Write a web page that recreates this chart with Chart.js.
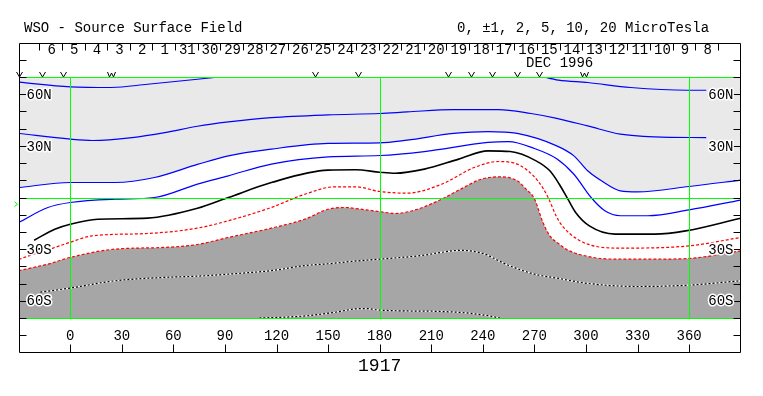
<!DOCTYPE html>
<html>
<head>
<meta charset="utf-8">
<script src="https://cdn.jsdelivr.net/npm/chart.js@4/dist/chart.umd.min.js"></script>
<style>
  body { margin: 0; background: #fff; }
</style>
</head>
<body>
<canvas id="myChart" width="763" height="396"></canvas>
<script>
// source surface field contours, Carrington rotation 1917 (lon in deg, lat in deg)
var blue1Lon = [-30, 0, 24, 45, 74, 91, 180, 274, 284, 301, 326, 359, 370];
var blue1Lat = [67, 64.3, 63.9, 65.8, 68.7, 70.5, null, 70.5, 68.2, 66.8, 63.9, 62.3, 62.3];

var blue2Lon = [-30, 0, 13, 36, 55, 74, 92, 117, 150, 180, 196, 223, 249, 268, 283, 301, 320, 340, 370];
var blue2Lat = [37.2, 33.9, 33.1, 34.8, 37.7, 41.4, 43.9, 46.4, 48, 48.8, 49.7, 51.1, 51.1, 48.8, 46, 41.6, 36.8, 35.2, 34.8];

var blue3Lon = [-30, 0, 26, 49, 74, 92, 117, 150, 180, 196, 223, 243, 260, 283, 293, 301, 309, 320, 330, 360, 390];
var blue3Lat = [5.8, 8.7, 8.7, 11.6, 19.2, 24.2, 28.1, 31.4, 31.7, 33.3, 37.2, 38.3, 37.2, 30, 24.2, 15.5, 9.7, 3.9, 3.3, 6.4, 10.1];

var blue4Lon = [-30, -13, 0, 26, 49, 74, 92, 117, 150, 180, 206, 243, 255, 270, 283, 293, 303, 311, 320, 336, 360, 390];
var blue4Lat = [-14.5, -5.8, -2.9, -1, 0, 7.8, 12.6, 19.4, 23.6, 24.4, 26.7, 32, 32.5, 28.5, 22.5, 13.5, 0, -7.7, -10.6, -10.6, -7.2, -1.5];

var zeroLon = [-21, -9, 0, 16, 45, 74, 92, 117, 150, 166, 180, 189, 206, 226, 243, 256, 271, 279, 284.5, 289.5, 294, 302, 317, 340, 358, 390];
var zeroLat = [-24.8, -18.4, -15.5, -12.6, -12, -6.3, 0, 8.7, 15.9, 16.1, 14.7, 14.1, 16.5, 22.3, 27.1, 26.7, 21.3, 15.5, 7.7, -1, -8.7, -16.5, -21.3, -21.3, -19.4, -12];

var red1Lon = [-30, -20, -10, 0, 12.6, 45, 74, 92, 117, 136.5, 154, 166, 180, 196, 216, 235, 249, 260, 272, 278, 282.6, 285.5, 291, 301, 320, 360, 390];
var red1Lat = [-36, -32.5, -29.4, -26, -22.3, -20.9, -17.8, -13.5, -5.8, 1.9, 6.2, 6.2, 3.5, 2.5, 7.7, 17.4, 20.9, 19.4, 9.7, 0, -10.6, -15.5, -21.3, -27.1, -29.4, -28.1, -23.2];

var red2Lon = [-30, -13, 0, 26, 55, 74, 92, 117, 136.5, 150, 160, 169, 180, 189, 202, 216, 227, 239, 250, 260, 266, 269, 271, 273, 275, 279, 284.5, 288.4, 304, 319.4, 340, 360, 390];
var red2Lat = [-42.5, -38.7, -34.8, -30, -29, -27.3, -23.2, -17.8, -12.6, -6.8, -5.8, -6.8, -8.2, -9.3, -6.8, -1, 4.8, 10.6, 12, 9.7, 4, 1, -3, -9, -14.5, -22.3, -27.1, -30, -34.8, -35.8, -35.8, -35.4, -31];

var neg5Lon = [-17.4, 0, 26, 55, 74, 99, 117, 137, 150, 165, 180, 206, 215, 227, 240, 254, 270, 284, 301, 330, 360, 390];
var neg5Lat = [-55, -52.6, -48.4, -46.4, -45.7, -44, -42.5, -39.5, -38.5, -37, -35.8, -33.5, -32, -30.7, -32.5, -39, -44.5, -47, -49.9, -51.7, -50.9, -48.4];

var neg10Lon = [110, 125, 140, 155, 165, 172, 180, 190, 215, 230, 242, 250];
var neg10Lat = [-70, -69.5, -68.5, -66.5, -64.8, -64.5, -65.4, -65.8, -66.2, -67, -68.5, -70];

// axes / labels
var lonTicks = [0, 30, 60, 90, 120, 150, 180, 210, 240, 270, 300, 330, 360];
var greenLons = [0, 180, 360];
var greenLats = [70, 0, -70];
var latLabelVals = [60, 30, -30, -60];
var latLabels = ['60N', '30N', '30S', '60S'];
var dayLabels = ['6', '5', '4', '3', '2', '1', '31', '30', '29', '28', '27', '26', '25', '24', '23',
  '22', '21', '20', '19', '18', '17', '16', '15', '14', '13', '12', '11', '10', '9', '8'];
var firstDayTick = -18.0;
var dayStep = 13.16;
var monthLabel = 'DEC 1996';
var monthLon = 284.7;
var markerLon = [-29.8, -16.6, -4.1, 23.7, 142.3, 167.3, 219.8, 233, 245.6, 260, 272.8, 298.8];
var markerKind = ['V', 'V', 'V', 'W', 'V', 'V', 'V', 'V', 'V', 'V', 'V', 'W'];
var earthLat = -3.9;
var rotation = '1917';

function pts(lons, lats) {
  return lons.map(function (v, i) { return { x: v, y: lats[i] }; });
}

var FONT = '"Liberation Mono", "Courier New", monospace';

var wso = {
  id: 'wso',
  afterDatasetsDraw: function (chart) {
    var c = chart.ctx, a = chart.chartArea, x = chart.scales.x, y = chart.scales.y;
    c.save();
    c.strokeStyle = '#00ff00';
    c.lineWidth = 1;
    c.beginPath();
    greenLons.forEach(function (v) {
      var px = Math.round(x.getPixelForValue(v)) + 0.5;
      c.moveTo(px, a.top); c.lineTo(px, a.bottom);
    });
    greenLats.forEach(function (v) {
      var py = Math.round(y.getPixelForValue(v)) + 0.5;
      c.moveTo(a.left, py); c.lineTo(a.right, py);
    });
    c.stroke();
    c.restore();
  },
  afterDraw: function (chart) {
    var c = chart.ctx, a = chart.chartArea, x = chart.scales.x, y = chart.scales.y;
    var top = Math.round(y.getPixelForValue(90)) + 0.5;
    var bot = Math.round(y.getPixelForValue(-90)) + 0.5;
    var L = a.left + 0.5, R = a.right - 0.5;
    c.save();
    c.strokeStyle = '#000';
    c.lineWidth = 1;
    c.beginPath();
    c.rect(L, top, R - L, bot - top);
    // latitude ticks every 10 deg, both sides
    for (var lat = -80; lat <= 80; lat += 10) {
      var py = Math.round(y.getPixelForValue(lat)) + 0.5;
      c.moveTo(L, py); c.lineTo(L + 7, py);
      c.moveTo(R, py); c.lineTo(R - 7, py);
    }
    // longitude ticks at the bottom
    lonTicks.forEach(function (v) {
      var px = Math.round(x.getPixelForValue(v)) + 0.5;
      c.moveTo(px, bot); c.lineTo(px, bot - 8);
    });
    // day ticks at the top
    for (var k = 0; k <= dayLabels.length; k++) {
      var dx = Math.round(x.getPixelForValue(firstDayTick + k * dayStep)) + 0.5;
      c.moveTo(dx, top); c.lineTo(dx, top + 7);
    }
    c.stroke();

    // V / W markers on top edge
    c.beginPath();
    markerLon.forEach(function (v, i) {
      var mx = Math.round(x.getPixelForValue(v)) + 0.5, my = a.top;
      if (markerKind[i] === 'W') {
        c.moveTo(mx - 4, my - 5); c.lineTo(mx - 2, my); c.lineTo(mx, my - 4);
        c.lineTo(mx + 2, my); c.lineTo(mx + 4, my - 5);
      } else {
        c.moveTo(mx - 3, my - 5); c.lineTo(mx, my); c.lineTo(mx + 3, my - 5);
      }
    });
    c.stroke();

    // earth latitude marker
    var ey = y.getPixelForValue(earthLat);
    c.strokeStyle = '#00ff00';
    c.beginPath();
    c.moveTo(14.5, ey - 2.5); c.lineTo(17.5, ey); c.lineTo(14.5, ey + 2.5);
    c.stroke();

    c.fillStyle = '#000';
    c.font = '14px ' + FONT;
    c.textBaseline = 'alphabetic';
    c.textAlign = 'left';
    c.fillText('WSO - Source Surface Field', 24, 32);
    c.fillText('0, \u00b11, 2, 5, 10, 20 MicroTesla', 457, 32);

    c.textBaseline = 'middle';
    c.textAlign = 'center';
    dayLabels.forEach(function (s, i) {
      c.fillText(s, x.getPixelForValue(firstDayTick + (i + 0.5) * dayStep) + 1, top + 7);
    });
    c.fillText(monthLabel, x.getPixelForValue(monthLon), top + 20);
    lonTicks.forEach(function (v) {
      c.fillText(String(v), x.getPixelForValue(v), y.getPixelForValue(-80) + 1);
    });

    // latitude labels with white halo
    c.lineJoin = 'round';
    latLabelVals.forEach(function (v, i) {
      var py = y.getPixelForValue(v) + 1;
      c.strokeStyle = '#fff';
      c.lineWidth = 3;
      c.textAlign = 'left';
      c.strokeText(latLabels[i], L + 7, py);
      c.fillText(latLabels[i], L + 7, py);
      c.textAlign = 'right';
      c.strokeText(latLabels[i], R - 7, py);
      c.fillText(latLabels[i], R - 7, py);
    });

    c.font = '18px ' + FONT;
    c.textAlign = 'center';
    c.fillText(rotation, x.getPixelForValue(180), 366);
    c.restore();
  }
};

function line(lons, lats, color, width, dash, extra) {
  var ds = {
    data: pts(lons, lats),
    borderColor: color,
    borderWidth: width,
    borderDash: dash || [],
    pointRadius: 0,
    fill: false,
    cubicInterpolationMode: 'monotone',
    clip: 0,
    order: 0
  };
  for (var k in (extra || {})) ds[k] = extra[k];
  return ds;
}

var ctx = document.getElementById('myChart').getContext('2d');
var chart = new Chart(ctx, {
  type: 'line',
  data: {
    datasets: [
      line(blue3Lon, blue3Lat, '#0000ff', 1.2, null, { fill: 'end', backgroundColor: '#e9e9e9', order: 2 }),
      line(red2Lon, red2Lat, '#ff0000', 1.2, [3, 2], { fill: 'start', backgroundColor: '#a6a6a6', order: 2 }),
      line(blue1Lon, blue1Lat, '#0000ff', 1.2),
      line(blue2Lon, blue2Lat, '#0000ff', 1.2),
      line(blue4Lon, blue4Lat, '#0000ff', 1.2),
      line(zeroLon, zeroLat, '#000000', 1.6),
      line(red1Lon, red1Lat, '#ff0000', 1.2, [3, 2]),
      line(neg5Lon, neg5Lat, '#000000', 1.2, [2, 2]),
      line(neg10Lon, neg10Lat, '#000000', 1.2, [2, 2]),
      line(neg5Lon, neg5Lat, '#ffffff', 1.2, null, { order: 1 }),
      line(neg10Lon, neg10Lat, '#ffffff', 1.2, null, { order: 1 })
    ]
  },
  options: {
    responsive: false,
    animation: false,
    events: [],
    layout: { padding: { left: 19, right: 22, top: 77, bottom: 78 } },
    plugins: {
      legend: { display: false },
      tooltip: { enabled: false }
    },
    scales: {
      x: { type: 'linear', min: -29.8, max: 390.2, display: false },
      y: { type: 'linear', min: -70, max: 70, display: false }
    }
  },
  plugins: [wso]
});
</script>
</body>
</html>
